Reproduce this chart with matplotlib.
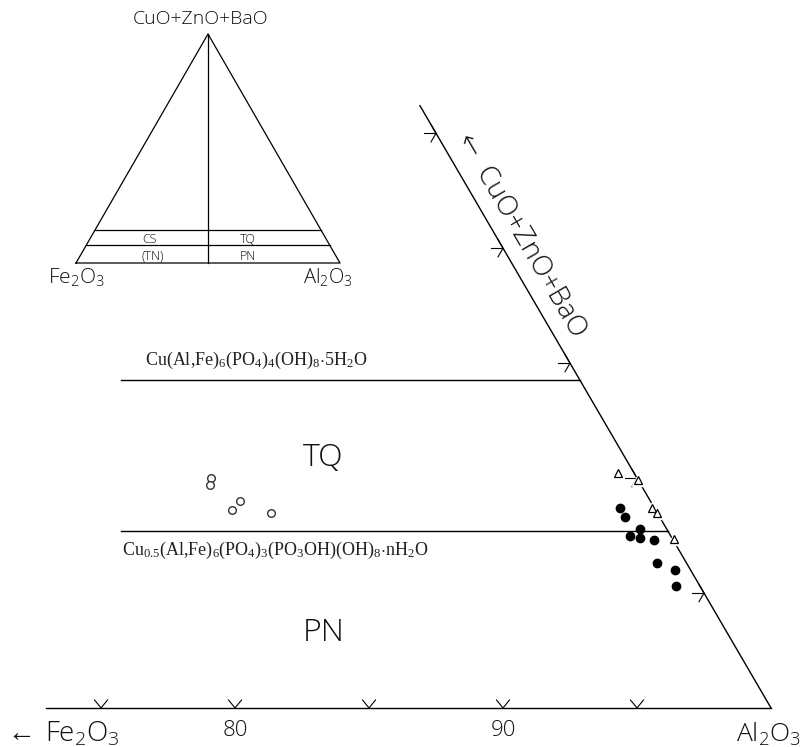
import numpy as np
import matplotlib
matplotlib.use("Agg")
import matplotlib.pyplot as plt

# fontes: serifada para as fórmulas, sans fina para os rótulos
plt.rcParams['mathtext.fontset'] = 'custom'
plt.rcParams['mathtext.rm'] = 'Liberation Serif'
plt.rcParams['mathtext.sf'] = 'Open Sans:light'
plt.rcParams['font.family'] = ['Open Sans', 'DejaVu Sans']
plt.rcParams['font.weight'] = 'light'

# Dados (% atômico): Al2O3 e CuO+ZnO+BaO de cada amostra
filled_al = [90.0, 90.4, 91.2, 91.0, 91.4, 92.0, 92.6, 93.4, 93.8]
filled_cu = [8.7, 8.3, 7.8, 7.5, 7.4, 7.3, 6.3, 6.0, 5.3]
tri_al = [89.2, 90.1, 91.2, 91.5, 92.7]
tri_cu = [10.2, 9.9, 8.7, 8.5, 7.35]
open_al = [74.1, 74.2, 75.7, 75.6, 77.1]
open_cu = [10.0, 9.7, 9.0, 8.6, 8.5]

# linhas de composição ideal: Cu/(Cu+Al+Fe)
tq_line = 100 / 7      # turquesa
pn_line = 50 / 6.5     # planerita

bottom_ticks = [75, 80, 85, 90, 95]
bottom_labels = {80: '80', 90: '90'}
edge_ticks = [5, 10, 15, 20, 25]

H = np.sqrt(3) / 2
INK = '#111111'


# Conversão ternária -> cartesiana
def tern(al, cu):
    al = np.asarray(al, dtype=float)
    cu = np.asarray(cu, dtype=float)
    return al + cu / 2, cu * H


fig = plt.figure(figsize=(8.12, 7.47), dpi=100)
ax = fig.add_axes([0, 0, 1, 1])
ax.set_xlim(71.23, 101.53)
ax.set_ylim(-1.47, 26.67)
ax.axis('off')

px_x = 1 / 26.8   # unidades por pixel
px_y = 1 / 26.55

# eixo inferior e lado direito do triângulo
ax.plot([72.95, 100], [0, 0], color='k', lw=1.0)
top_cu = 26.2
ex, ey = tern([100, 100 - top_cu], [0, top_cu])
ax.plot(ex, ey, color='k', lw=1.0)

# marcas "v" no eixo inferior
for t in bottom_ticks:
    ax.plot([t - 6.5 * px_x, t, t + 6.5 * px_x], [8 * px_y, 0, 8 * px_y], color='k', lw=0.8)
for t, lab in bottom_labels.items():
    ax.text(t, -0.83, lab, ha='center', va='center', fontsize=16, color=INK)

# marcas em seta no lado direito
for c in edge_ticks:
    tx, ty = tern(100 - c, c)
    ax.plot([tx - 12 * px_x, tx], [ty, ty], color='k', lw=0.8)
    ax.plot([tx - 5 * px_x, tx, tx - 5 * px_x],
            [ty + 8.7 * px_y, ty, ty - 8.7 * px_y], color='k', lw=0.8)

# linhas horizontais das fases
for c in [tq_line, pn_line]:
    rx, ry = tern(100 - c, c)
    ax.plot([75.75, rx], [ry, ry], color='k', lw=1.0)

ax.text(76.64, 13.11, r'$\mathrm{Cu(Al{,}Fe)_6(PO_4)_4(OH)_8{\cdot}5H_2O}$',
        ha='left', va='center', fontsize=13, color='#222222')
ax.text(75.78, 5.95, r'$\mathrm{Cu_{0.5}(Al{,}Fe)_6(PO_4)_3(PO_3OH)(OH)_8{\cdot}nH_2O}$',
        ha='left', va='center', fontsize=13, color='#222222')

ax.text(83.28, 9.42, 'TQ', ha='center', va='center', fontsize=23, color=INK)
ax.text(83.32, 2.82, 'PN', ha='center', va='center', fontsize=23, color=INK)

# rótulos dos vértices e do lado direito
ax.text(71.3, -0.98, r'$\leftarrow\,\mathsf{Fe_2O_3}$', ha='left', va='center', fontsize=20, color=INK)
ax.text(99.92, -0.98, r'$\mathsf{Al_2O_3}$', ha='center', va='center', fontsize=19, color=INK)
ax.text(90.67, 17.82, '\u2190  CuO+ZnO+BaO', ha='center', va='center', fontsize=20,
        color=INK, rotation=-59.8, rotation_mode='anchor')

# pontos das amostras
x, y = tern(tri_al, tri_cu)
ax.plot(x, y, '^', ms=8.5, mfc='white', mec='white', zorder=4)
ax.plot(x, y, '^', ms=5.5, mfc='white', mec='k', mew=0.9, zorder=5)
x, y = tern(filled_al, filled_cu)
ax.plot(x, y, 'o', ms=6, color='k', zorder=5)
x, y = tern(open_al, open_cu)
ax.plot(x, y, 'o', ms=5.5, mfc='white', mec='#333333', mew=1.0, zorder=5)

# triângulo completo (detalhe no canto superior esquerdo)
ins = fig.add_axes([76 / 812, (747 - 263) / 747, 264 / 812, 229 / 747])
ins.set_xlim(0, 100)
ins.set_ylim(0, 100 * H)
ins.axis('off')
ins.plot([0, 100, 50, 0], [0, 0, 100 * H, 0], color='k', lw=0.9, clip_on=False)
ins.plot([50, 50], [0, 100 * H], color='k', lw=0.9, clip_on=False)
for c in [tq_line, pn_line]:
    ins.plot([c / 2, 100 - c / 2], [c * H, c * H], color='k', lw=0.9, clip_on=False)
ins.text(28, 8.7, 'CS', ha='center', va='center', fontsize=9, color=INK)
ins.text(29.2, 2.6, '(TN)', ha='center', va='center', fontsize=9, color=INK)
ins.text(65, 8.7, 'TQ', ha='center', va='center', fontsize=9, color=INK)
ins.text(65, 2.6, 'PN', ha='center', va='center', fontsize=9, color=INK)
ins.text(47, 92.2, 'CuO+ZnO+BaO', ha='center', va='center', fontsize=14, color=INK)
ins.text(0, -5.7, r'$\mathsf{Fe_2O_3}$', ha='center', va='center', fontsize=15, color=INK)
ins.text(95.5, -5.7, r'$\mathsf{Al_2O_3}$', ha='center', va='center', fontsize=14.5, color=INK)

fig.savefig('out.png', dpi=100)
